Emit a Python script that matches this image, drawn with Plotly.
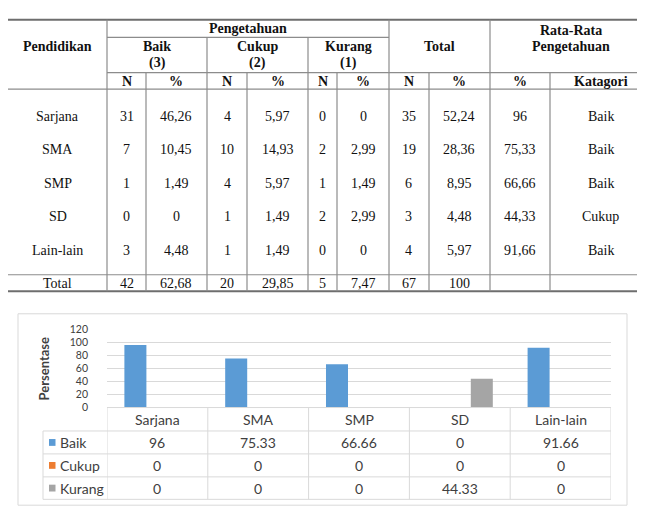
import plotly.graph_objects as go

# ---------------- data ----------------
pendidikan = ["Sarjana", "SMA", "SMP", "SD", "Lain-lain"]
baik_n = [31, 7, 1, 0, 3]
baik_pct = [46.26, 10.45, 1.49, 0, 4.48]
cukup_n = [4, 10, 4, 1, 1]
cukup_pct = [5.97, 14.93, 5.97, 1.49, 1.49]
kurang_n = [0, 2, 1, 2, 0]
kurang_pct = [0, 2.99, 1.49, 2.99, 0]
total_n = [35, 19, 6, 3, 4]
total_pct = [52.24, 28.36, 8.95, 4.48, 5.97]
rata_pct = [96, 75.33, 66.66, 44.33, 91.66]
kategori = ["Baik", "Baik", "Baik", "Cukup", "Baik"]
total_row = ["Total", 42, 62.68, 20, 29.85, 5, 7.47, 67, 100, "", ""]

categories = ["Sarjana", "SMA", "SMP", "SD", "Lain-lain"]
series_names = ["Baik", "Cukup", "Kurang"]
baik = [96, 75.33, 66.66, 0, 91.66]
cukup = [0, 0, 0, 0, 0]
kurang = [0, 0, 0, 44.33, 0]
y_ticks = [0, 20, 40, 60, 80, 100, 120]

# ---------------- style ----------------
W, H = 645, 511
colors = ["#5B9BD5", "#ED7D31", "#A5A5A5"]
SERIF = "Liberation Serif, Times New Roman, serif"
SANS = "Lato, Carlito, sans-serif"


def px(x):
    return x / W


def py(y):
    return 1 - y / H


def fmt_id(v):
    if isinstance(v, str):
        return v
    return f"{v:g}".replace(".", ",")


fig = go.Figure()

series_vals = [baik, cukup, kurang]
for name, vals, col in zip(series_names, series_vals, colors):
    fig.add_trace(go.Bar(x=categories, y=vals, name=name, marker_color=col,
                         marker_line_width=0, showlegend=False, hoverinfo="skip"))

shapes = []
ann = []


def hline(y, x0, x1, color="#8c8c8c", w=1.2):
    shapes.append(dict(type="line", xref="paper", yref="paper", x0=px(x0), x1=px(x1),
                       y0=py(y), y1=py(y), line=dict(color=color, width=w)))


def vline(x, y0, y1, color="#8c8c8c", w=1.2):
    shapes.append(dict(type="line", xref="paper", yref="paper", x0=px(x), x1=px(x),
                       y0=py(y0), y1=py(y1), line=dict(color=color, width=w)))


def text(t, x, y, bold=False, size=14, family=SERIF, color="#111111", anchor="center"):
    ann.append(dict(text=f"<b>{t}</b>" if bold else str(t), x=px(x), y=py(y), xref="paper",
                    yref="paper", showarrow=False, xanchor=anchor, yanchor="middle",
                    font=dict(family=family, size=size, color=color)))


# ---------------- upper table ----------------
edges = [0, 99, 138, 199, 239, 300, 329, 381, 421, 482, 542, 643]
centers = [(edges[i] + edges[i + 1]) / 2 for i in range(len(edges) - 1)]
top, y_sub, y_np, y_hdr, y_tot, bottom = 6, 24, 60, 77, 267, 284

hline(top, 0, 643, color="#6e6e6e", w=2)
hline(y_sub, 99, 381)
hline(y_np, 99, 643)
hline(y_hdr, 0, 643)
hline(y_tot, 0, 643)
hline(bottom, 0, 643, color="#6e6e6e", w=2)
for x in [99, 381, 482, 643]:
    vline(x, top, bottom)
for x in [199, 300]:
    vline(x, y_sub, bottom)
for x in [138, 239, 329, 421, 542]:
    vline(x, y_np, bottom)

text("Pendidikan", centers[0], 33, bold=True)
text("Pengetahuan", (99 + 381) / 2, 15, bold=True)
for (lab, num), i in zip([("Baik", "(3)"), ("Cukup", "(2)"), ("Kurang", "(1)")], [1, 3, 5]):
    cx = (edges[i] + edges[i + 2]) / 2
    text(lab, cx, 33, bold=True)
    text(num, cx, 50, bold=True)
text("Total", (381 + 482) / 2, 33, bold=True)
text("Rata-Rata", (482 + 643) / 2, 17, bold=True)
text("Pengetahuan", (482 + 643) / 2, 33, bold=True)
sub_hdr = ["N", "%", "N", "%", "N", "%", "N", "%", "%", "Katagori"]
for j, h in enumerate(sub_hdr):
    text(h, centers[j + 1], 69, bold=True)

cols = [pendidikan, baik_n, baik_pct, cukup_n, cukup_pct, kurang_n, kurang_pct,
        total_n, total_pct, rata_pct, kategori]
for r in range(len(pendidikan)):
    yy = 105 + 34.25 * r
    for c, col in enumerate(cols):
        text(fmt_id(col[r]), centers[c], yy)
for c, v in enumerate(total_row):
    text(fmt_id(v), centers[c], 276)

# ---------------- chart ----------------
shapes.append(dict(type="rect", xref="paper", yref="paper", x0=px(10), x1=px(619),
                   y0=py(503), y1=py(307), line=dict(color="#d9d9d9", width=1),
                   fillcolor="rgba(0,0,0,0)", layer="below"))

plot_l, plot_r, plot_t, plot_b = 99, 603, 323, 403
row_edges = [403, 427, 450.5, 474, 497]
grid = "#d9d9d9"

shapes.append(dict(type="line", xref="paper", yref="paper", x0=px(plot_l), x1=px(plot_r),
                   y0=py(row_edges[0]), y1=py(row_edges[0]), line=dict(color=grid, width=1)))
for ye in row_edges[1:]:
    shapes.append(dict(type="line", xref="paper", yref="paper", x0=px(35), x1=px(plot_r),
                       y0=py(ye), y1=py(ye), line=dict(color=grid, width=1)))
for k in range(len(categories) + 1):
    shapes.append(dict(type="line", xref="x", yref="paper", x0=k - 0.5, x1=k - 0.5,
                       y0=py(row_edges[0]), y1=py(row_edges[-1]), line=dict(color=grid, width=1)))
shapes.append(dict(type="line", xref="paper", yref="paper", x0=px(35), x1=px(35),
                   y0=py(row_edges[1]), y1=py(row_edges[-1]), line=dict(color=grid, width=1)))

tcol = "#404040"
for k, cat in enumerate(categories):
    ann.append(dict(text=cat, x=cat, xref="x", y=py((row_edges[0] + row_edges[1]) / 2),
                    yref="paper", showarrow=False, xanchor="center", yanchor="middle",
                    font=dict(family=SANS, size=14, color=tcol)))
for s, (name, vals, col) in enumerate(zip(series_names, series_vals, colors)):
    yc = (row_edges[s + 1] + row_edges[s + 2]) / 2
    shapes.append(dict(type="rect", xref="paper", yref="paper", x0=px(41), x1=px(47.5),
                       y0=py(yc + 3.5), y1=py(yc - 3.5), line=dict(width=0), fillcolor=col))
    text(name, 50, yc, size=14, family=SANS, color=tcol, anchor="left")
    for cat, v in zip(categories, vals):
        ann.append(dict(text=f"{v:g}", x=cat, xref="x", y=py(yc), yref="paper",
                        showarrow=False, xanchor="center", yanchor="middle",
                        font=dict(family=SANS, size=14, color=tcol)))

ann.append(dict(text="<b>Persentase</b>", x=px(36), y=py(363), xref="paper", yref="paper",
                showarrow=False, textangle=-90, xanchor="center", yanchor="middle",
                font=dict(family=SANS, size=13, color=tcol)))

fig.update_layout(
    width=W, height=H, margin=dict(l=0, r=0, t=0, b=0),
    paper_bgcolor="white", plot_bgcolor="white",
    barmode="group", bargap=0.345, bargroupgap=0,
    xaxis=dict(domain=[px(plot_l), px(plot_r)], range=[-0.5, 4.5], showticklabels=False,
               showgrid=False, zeroline=False, showline=False, fixedrange=True),
    yaxis=dict(domain=[py(plot_b), py(plot_t)], range=[0, 120], tickvals=y_ticks,
               gridcolor=grid, gridwidth=1, zeroline=False, showline=False,
               ticklabelstandoff=18, tickfont=dict(family=SANS, size=10.5, color="#404040"),
               fixedrange=True),
    shapes=shapes, annotations=ann,
)

fig.write_html("out.html")
